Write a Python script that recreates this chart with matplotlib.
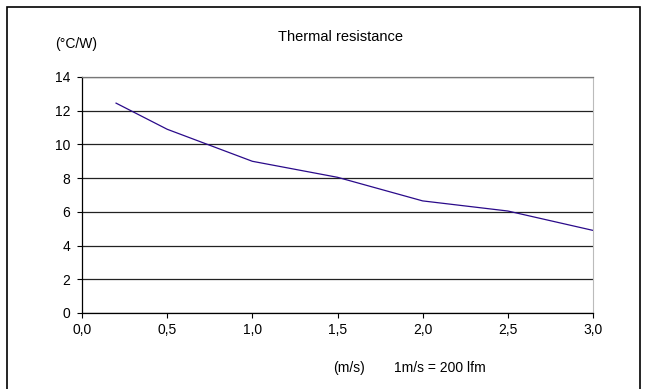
import matplotlib
matplotlib.use("Agg")
import matplotlib.pyplot as plt
from matplotlib.patches import Rectangle

plt.rcParams['font.family'] = ['Liberation Sans', 'DejaVu Sans']

# air speed (m/s) vs thermal resistance (°C/W)
speed = [0.2, 0.5, 1.0, 1.5, 2.0, 2.5, 3.0]
resistance = [12.45, 10.9, 9.0, 8.05, 6.65, 6.05, 4.9]
xticks = [0.0, 0.5, 1.0, 1.5, 2.0, 2.5, 3.0]
xtick_labels = ['0,0', '0,5', '1,0', '1,5', '2,0', '2,5', '3,0']
yticks = [0, 2, 4, 6, 8, 10, 12, 14]

fig = plt.figure(figsize=(6.48, 3.89), dpi=100)
ax = fig.add_axes([82/648, 1 - 313/389, (593 - 82)/648, (313 - 77)/389])

# outer chart border
fig.patches.append(Rectangle((7/648, -0.05), (640 - 7)/648, 1.05 - 7/389,
                             transform=fig.transFigure, fill=False,
                             edgecolor='black', linewidth=1.2))

ax.plot(speed, resistance, color='#2a0a8a', linewidth=0.9)

ax.set_xlim(0, 3.0)
ax.set_ylim(0, 14)
ax.set_xticks(xticks)
ax.set_xticklabels(xtick_labels)
ax.set_yticks(yticks)
ax.yaxis.grid(True, color='#222222', linewidth=0.9)
ax.set_axisbelow(True)

ax.spines['top'].set_visible(True)
ax.spines['top'].set_color('#777777')
ax.spines['top'].set_linewidth(0.9)
ax.spines['right'].set_color('#bbbbbb')
ax.spines['right'].set_linewidth(0.8)
ax.spines['left'].set_linewidth(0.9)
ax.spines['bottom'].set_linewidth(0.9)
ax.tick_params(axis='both', direction='out', length=3.6, width=0.8,
               labelsize=10)
ax.tick_params(axis='y', pad=5)
ax.tick_params(axis='x', pad=3.5)

fig.text(340.5/648, 1 - 37/389, 'Thermal resistance', ha='center', va='center', fontsize=10.5)
fig.text(55/648, 1 - 44/389, '(°C/W)', ha='left', va='center', fontsize=10)
fig.text(333/648, 1 - 368/389, '(m/s)', ha='left', va='center', fontsize=10)
fig.text(394/648, 1 - 368/389, '1m/s = 200 lfm', ha='left', va='center', fontsize=10)

fig.savefig('out.png', dpi=100)
